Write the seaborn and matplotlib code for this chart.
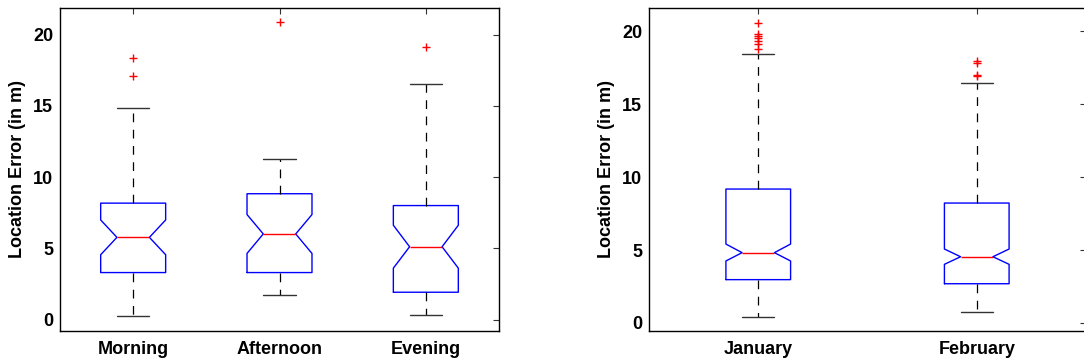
import matplotlib
matplotlib.use("Agg")
import matplotlib.pyplot as plt
import pandas as pd
import seaborn as sns

# Location error by time of day (summary statistics, metres)
day_periods = ["Morning", "Afternoon", "Evening"]
day_q1 = [3.31, 3.31, 1.93]
day_median = [5.78, 6.02, 5.12]
day_q3 = [8.18, 8.84, 8.01]
day_whisker_low = [0.24, 1.72, 0.35]
day_whisker_high = [14.83, 11.28, 16.57]
day_notch_low = [4.56, 4.65, 3.62]
day_notch_high = [7.00, 7.38, 6.63]
day_outliers = [[18.35, 17.13], [20.92], [19.13]]

# Location error by month (summary statistics, metres)
months = ["January", "February"]
month_q1 = [2.97, 2.69]
month_median = [4.82, 4.54]
month_q3 = [9.18, 8.22]
month_whisker_low = [0.43, 0.75]
month_whisker_high = [18.43, 16.44]
month_notch_low = [4.25, 4.02]
month_notch_high = [5.41, 5.07]
month_outliers = [[20.55, 19.84, 19.66, 19.52, 19.34, 19.09, 18.77],
                  [17.97, 17.81, 16.98, 16.90]]

y_ticks = [0, 5, 10, 15, 20]

sns.set_theme(style="white")
plt.rcParams["font.family"] = ["Liberation Sans", "DejaVu Sans"]
plt.rcParams["font.weight"] = "bold"
plt.rcParams["axes.labelweight"] = "bold"
plt.rcParams["text.color"] = "black"
plt.rcParams["axes.labelcolor"] = "black"
plt.rcParams["xtick.color"] = "black"
plt.rcParams["ytick.color"] = "black"


def draw_panel(ax, labels, q1, med, q3, lo, hi, clo, chi, outliers, width, ylim):
    stats = []
    rows = []
    for i, lab in enumerate(labels):
        stats.append(dict(label=lab, q1=q1[i], med=med[i], q3=q3[i],
                          whislo=lo[i], whishi=hi[i], cilo=clo[i], cihi=chi[i],
                          mean=med[i], iqr=q3[i] - q1[i], fliers=list(outliers[i])))
        for v in [lo[i], q1[i], med[i], q3[i], hi[i], *outliers[i]]:
            rows.append((lab, v))
    frame = pd.DataFrame(rows, columns=["group", "value"])

    sns.boxplot(
        data=frame, x="group", y="value", order=labels, ax=ax,
        width=width, fill=False, notch=True, bxpstats=stats,
        boxprops=dict(color="#0000ff", linewidth=1.0),
        medianprops=dict(color="#ff0000", linewidth=1.0),
        whiskerprops=dict(color="black", linewidth=0.9, linestyle=(0, (7, 6))),
        capprops=dict(color="#333333", linewidth=1.0),
        flierprops=dict(marker="+", markeredgecolor="#ff0000", markerfacecolor="#ff0000",
                        markersize=6, markeredgewidth=1.0, linestyle="none"),
    )
    ax.set_xlim(-0.5, len(labels) - 0.5)
    ax.set_ylim(*ylim)
    ax.set_yticks(y_ticks)
    ax.set_xlabel("")
    ax.set_ylabel("Location Error (in m)", fontsize=13, fontweight="bold",
                  color="black", labelpad=5)
    ax.tick_params(axis="both", direction="in", length=4, width=0.8, color="#333333",
                   labelcolor="black", top=True, right=True, labelsize=13, pad=5)
    ax.tick_params(axis="x", pad=7)
    for lab in ax.get_xticklabels() + ax.get_yticklabels():
        lab.set_fontweight("bold")
    for sp in ax.spines.values():
        sp.set_visible(True)
        sp.set_color("black")
        sp.set_linewidth(1.0)


fig = plt.figure(figsize=(10.84, 3.62), dpi=100)
ax_day = fig.add_axes([60 / 1084, 31 / 362, 439 / 1084, 323 / 362])
ax_month = fig.add_axes([649 / 1084, 31 / 362, 437 / 1084, 323 / 362])

draw_panel(ax_day, day_periods, day_q1, day_median, day_q3, day_whisker_low,
           day_whisker_high, day_notch_low, day_notch_high, day_outliers,
           0.444, (-0.79, 21.87))
draw_panel(ax_month, months, month_q1, month_median, month_q3, month_whisker_low,
           month_whisker_high, month_notch_low, month_notch_high, month_outliers,
           0.296, (-0.55, 21.59))

fig.savefig("out.png", dpi=100)
